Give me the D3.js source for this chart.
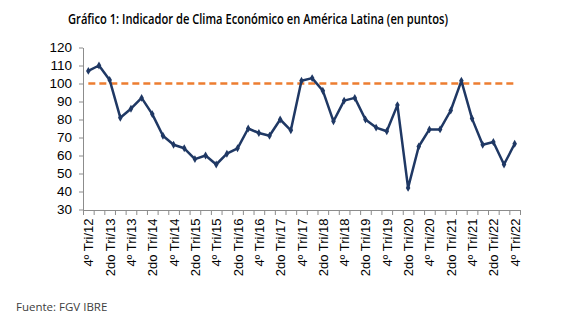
<!DOCTYPE html>
<html>
<head>
<meta charset="utf-8">
<script src="https://cdn.jsdelivr.net/npm/d3@7"></script>
<style>
  body { margin: 0; background: #fff; }
  svg { display: block; }
</style>
</head>
<body>
<svg id="chart" width="575" height="327"></svg>
<script>
// quarterly index values, 4º Tri/12 .. 4º Tri/22
const quarters = [
  "4º Tri/12",
  "1er Tri/13", "2do Tri/13", "3er Tri/13", "4º Tri/13",
  "1er Tri/14", "2do Tri/14", "3er Tri/14", "4º Tri/14",
  "1er Tri/15", "2do Tri/15", "3er Tri/15", "4º Tri/15",
  "1er Tri/16", "2do Tri/16", "3er Tri/16", "4º Tri/16",
  "1er Tri/17", "2do Tri/17", "3er Tri/17", "4º Tri/17",
  "1er Tri/18", "2do Tri/18", "3er Tri/18", "4º Tri/18",
  "1er Tri/19", "2do Tri/19", "3er Tri/19", "4º Tri/19",
  "1er Tri/20", "2do Tri/20", "3er Tri/20", "4º Tri/20",
  "1er Tri/21", "2do Tri/21", "3er Tri/21", "4º Tri/21",
  "1er Tri/22", "2do Tri/22", "3er Tri/22", "4º Tri/22"
];
const ice = [
  107, 110, 102, 81, 86, 92, 83, 71, 66, 64,
  58, 60, 55, 61, 64, 75, 72.5, 71, 80, 74,
  101.5, 103, 96, 79, 90.5, 92, 80, 75.5, 73.5, 88,
  42, 65, 74.5, 74.5, 85, 101.5, 80.5, 66, 67.5, 55,
  66.5
];
const neutral = 100;
const yTicks = [30, 40, 50, 60, 70, 80, 90, 100, 110, 120];

const svg = d3.select("#chart");
const plot = { left: 83, right: 520, top: 47.5, bottom: 209.5 };

const x = d3.scaleBand().domain(quarters).range([plot.left, plot.right]);
const xEdge = d3.scaleLinear().domain([0, quarters.length]).range([plot.left, plot.right]);
const y = d3.scaleLinear().domain([30, 120]).range([plot.bottom, plot.top]);
const cx = d => x(d) + x.bandwidth() / 2;

svg.append("text")
  .attr("x", 258).attr("y", 24)
  .attr("text-anchor", "middle")
  .attr("font-family", "Open Sans, sans-serif")
  .attr("font-weight", 600)
  .attr("font-size", 13.5)
  .attr("fill", "#000")
  .attr("textLength", 380)
  .attr("lengthAdjust", "spacingAndGlyphs")
  .text("Gráfico 1: Indicador de Clima Económico en América Latina (en puntos)");

// y axis
const yAxis = svg.append("g")
  .attr("transform", `translate(${plot.left},0)`)
  .call(d3.axisLeft(y).tickValues(yTicks).tickSize(4).tickPadding(7).tickSizeOuter(0));
yAxis.select(".domain").attr("stroke", "#8c8c8c");
yAxis.selectAll(".tick line").attr("stroke", "#8c8c8c");
yAxis.selectAll(".tick text")
  .attr("font-family", "Liberation Sans, Arial, sans-serif")
  .attr("font-size", 13.5)
  .attr("fill", "#000");

// x axis: ticks between categories
const xAxis = svg.append("g")
  .attr("transform", `translate(0,${plot.bottom + 0.5})`)
  .call(d3.axisBottom(xEdge).tickValues(d3.range(quarters.length + 1))
    .tickSize(5).tickSizeOuter(0).tickFormat(""));
xAxis.select(".domain").attr("stroke", "#8c8c8c");
xAxis.selectAll(".tick line").attr("stroke", "#8c8c8c");

svg.append("g")
  .selectAll("text")
  .data(quarters.filter((d, i) => i % 2 === 0))
  .join("text")
  .attr("transform", d => `translate(${cx(d) + 5},${plot.bottom + 9}) rotate(-90)`)
  .attr("text-anchor", "end")
  .attr("font-family", "Liberation Sans, Arial, sans-serif")
  .attr("font-size", 13)
  .attr("fill", "#000")
  .text(d => d);

// reference line at 100
svg.append("line")
  .attr("x1", cx(quarters[0])).attr("x2", cx(quarters[quarters.length - 1]))
  .attr("y1", y(neutral)).attr("y2", y(neutral))
  .attr("stroke", "#ed7d31")
  .attr("stroke-width", 2.5)
  .attr("stroke-dasharray", "7,4");

const line = d3.line()
  .x((d, i) => cx(quarters[i]))
  .y(d => y(d));

svg.append("path")
  .datum(ice)
  .attr("d", line)
  .attr("fill", "none")
  .attr("stroke", "#1f3864")
  .attr("stroke-width", 2.5)
  .attr("stroke-linejoin", "round");

svg.append("g")
  .selectAll("path")
  .data(ice)
  .join("path")
  .attr("transform", (d, i) => `translate(${cx(quarters[i])},${y(d)})`)
  .attr("d", d3.symbol(d3.symbolDiamond, 18))
  .attr("fill", "#1f3864");

svg.append("text")
  .attr("x", 16).attr("y", 311)
  .attr("font-family", "Open Sans, sans-serif")
  .attr("font-size", 11.5)
  .attr("fill", "#404040")
  .text("Fuente: FGV IBRE");
</script>
</body>
</html>
